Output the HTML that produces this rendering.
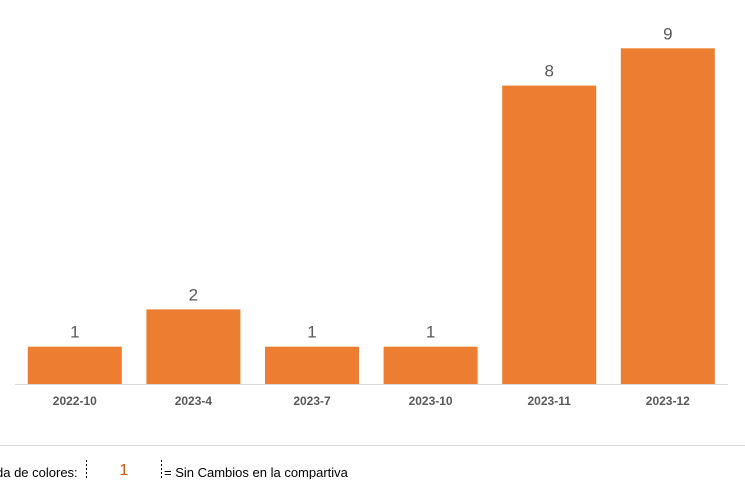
<!DOCTYPE html>
<html><head><meta charset="utf-8">
<style>
body{margin:0;width:745px;height:479px;background:#fff;overflow:hidden;font-family:"Liberation Sans",sans-serif;}
</style></head>
<body>
<svg id="chart" width="745" height="479" xmlns="http://www.w3.org/2000/svg">
<line x1="15" y1="384.5" x2="728" y2="384.5" stroke="#d9d9d9" stroke-width="1"/>
<line x1="0" y1="445.5" x2="745" y2="445.5" stroke="#d9d9d9" stroke-width="1"/>
<text x="-4" y="477" font-size="13" fill="#000">da de colores:</text>
<line x1="86.5" y1="460" x2="86.5" y2="479" stroke="#000" stroke-dasharray="2,2"/>
<text x="124" y="475" font-size="16" fill="#c55a11" text-anchor="middle">1</text>
<line x1="161.5" y1="460" x2="161.5" y2="479" stroke="#000" stroke-dasharray="2,2"/>
<text x="164" y="477" font-size="13" fill="#000">= Sin Cambios en la compartiva</text>
</svg>
<script>
const categories=["2022-10","2023-4","2023-7","2023-10","2023-11","2023-12"];
const values=[1,2,1,1,8,9];
const svg=document.getElementById('chart');
const NS='http://www.w3.org/2000/svg';
const x0=15.5,step=118.6,barW=94,baseY=384,unit=37.3;
function xBand(i){return x0+i*step;}
function yScale(v){return baseY-v*unit;}
categories.forEach((c,i)=>{
  const cx=xBand(i)+step/2;
  const r=document.createElementNS(NS,'rect');
  
  
  r.setAttribute('x',cx-barW/2);r.setAttribute('y',yScale(values[i]));
  r.setAttribute('width',barW);r.setAttribute('height',baseY-yScale(values[i]));
  r.setAttribute('fill','#ed7d31');
  svg.appendChild(r);
  const t=document.createElementNS(NS,'text');
  
  
  t.setAttribute('x',cx);t.setAttribute('y',yScale(values[i])-9);
  t.setAttribute('text-anchor','middle');t.setAttribute('font-size','17');t.setAttribute('fill','#595959');
  t.textContent=values[i];
  svg.appendChild(t);
  const l=document.createElementNS(NS,'text');
  
  
  l.setAttribute('x',cx);l.setAttribute('y',405);
  l.setAttribute('text-anchor','middle');l.setAttribute('font-size','12');l.setAttribute('font-weight','bold');l.setAttribute('fill','#595959');
  l.textContent=c;
  svg.appendChild(l);
});
</script>
</body></html>
